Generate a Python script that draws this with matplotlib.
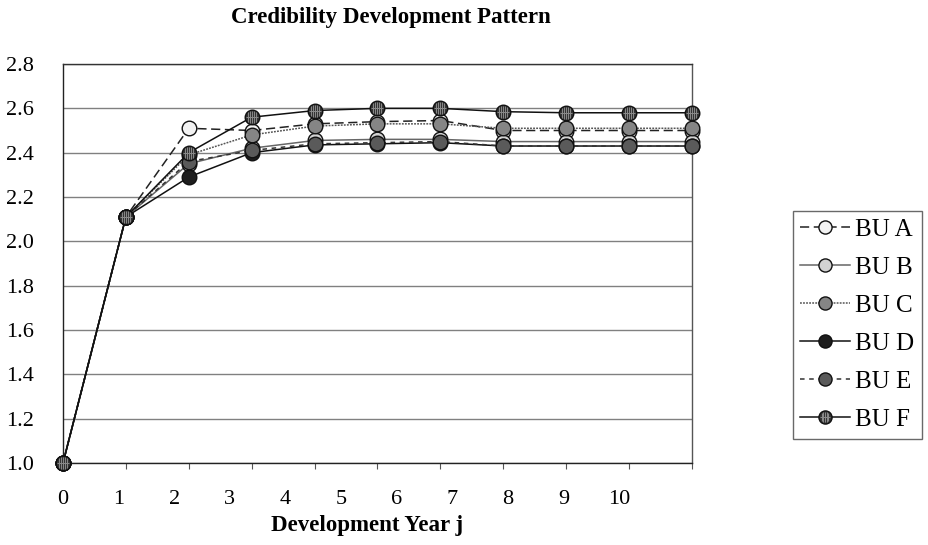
import numpy as np
import matplotlib
matplotlib.use("Agg")
import matplotlib.pyplot as plt
from matplotlib.path import Path
from matplotlib.lines import Line2D
from matplotlib.legend_handler import HandlerTuple
import matplotlib.transforms as mtrans

plt.rcParams['font.family'] = ['Liberation Serif', 'DejaVu Serif']

# development factors
dev_year = list(range(11))
bu_a = [1.00, 2.11, 2.51, 2.50, 2.53, 2.54, 2.545, 2.50, 2.50, 2.50, 2.50]
bu_b = [1.00, 2.11, 2.35, 2.42, 2.455, 2.46, 2.46, 2.45, 2.45, 2.45, 2.45]
bu_c = [1.00, 2.11, 2.39, 2.48, 2.52, 2.53, 2.53, 2.51, 2.51, 2.51, 2.51]
bu_d = [1.00, 2.11, 2.29, 2.40, 2.435, 2.44, 2.445, 2.43, 2.43, 2.43, 2.43]
bu_e = [1.00, 2.11, 2.36, 2.41, 2.44, 2.445, 2.45, 2.43, 2.43, 2.43, 2.43]
bu_f = [1.00, 2.11, 2.40, 2.56, 2.59, 2.60, 2.60, 2.585, 2.58, 2.58, 2.58]
names = ['BU A', 'BU B', 'BU C', 'BU D', 'BU E', 'BU F']
x_labels = [str(i) for i in range(11)]
y_ticks = [1.0, 1.2, 1.4, 1.6, 1.8, 2.0, 2.2, 2.4, 2.6, 2.8]

series = [bu_a, bu_b, bu_c, bu_d, bu_e, bu_f]
fills = ['#f2f2f2', '#d2d2d2', '#858585', '#1e1e1e', '#5a5a5a', '#333333']
styles = [(0, (6, 3)), '-', (0, (1.2, 0.8)), '-', (0, (3, 3)), '-']
lcolors = ['#222222', '#666666', '#555555', '#111111', '#333333', '#111111']

# striped marker for BU F
segs = []
codes = []
for xs in [-0.6, -0.3, 0.0, 0.3, 0.6]:
    h = np.sqrt(1 - xs ** 2) * 0.95
    segs += [(xs, -h), (xs, h)]
    codes += [Path.MOVETO, Path.LINETO]
segs += [(-0.95, 0), (0.95, 0)]
codes += [Path.MOVETO, Path.LINETO]
stripes = Path(segs, codes)

fig = plt.figure(figsize=(9.29, 5.45), dpi=100)
ax = fig.add_axes([63 / 929, 82 / 545, 629 / 929, 399 / 545])

ms = 10.5
handles = []
for vals, fc, ls, lc, name in zip(series, fills, styles, lcolors, names):
    ln, = ax.plot(dev_year, vals, ls=ls, color=lc, lw=1.1, marker='o', ms=ms,
                  mfc=fc, mec='#111111', mew=1.0, clip_on=False, zorder=3)
    if name == 'BU F':
        ax.plot(dev_year, vals, ls='none', marker=stripes, ms=ms * 0.8,
                mec='#8a8a8a', mew=0.7, clip_on=False, zorder=4)
        handles.append((ln, Line2D([], [], ls='none', marker=stripes, ms=ms * 0.8,
                                   mec='#8a8a8a', mew=0.7)))
    else:
        handles.append(ln)

ax.set_xlim(0, 10)
ax.set_ylim(1.0, 2.8)
ax.set_yticks(y_ticks)
ax.set_yticklabels(['%.1f' % v for v in y_ticks], fontsize=16)
ax.tick_params(axis='y', length=0, pad=21)
ax.yaxis.grid(True, color='#808080', lw=1)
ax.set_axisbelow(True)

# tick marks at the categories, labels drawn where the original put them
ax.set_xticks(dev_year)
ax.set_xticklabels([])
ax.tick_params(axis='x', direction='out', length=4, color='#555555')
trans = mtrans.blended_transform_factory(ax.transData, fig.transFigure)
for i, lab in enumerate(x_labels):
    ax.text(i * 0.884, 1 - 500 / 545, lab, transform=trans, fontsize=16,
            ha='center', va='center')

for sp in ax.spines.values():
    sp.set_color('#555555')
    sp.set_linewidth(1.0)
ax.spines['bottom'].set_color('#222222')
ax.spines['left'].set_color('#222222')
ax.spines['top'].set_color('#333333')

fig.text(367 / 929, 1 - 525 / 545, 'Development Year j', fontsize=16.5,
         fontweight='bold', ha='center', va='center')
fig.text(391 / 929, 1 - 18 / 545, 'Credibility Development Pattern', fontsize=16.5,
         fontweight='bold', ha='center', va='center')

leg = fig.legend(handles, names, loc='upper left', bbox_to_anchor=(793 / 929, 1 - 211 / 545),
                 fontsize=18, frameon=True, fancybox=False, borderpad=0.3,
                 borderaxespad=0, labelspacing=0.62, handlelength=2.0, handletextpad=0.2,
                 markerscale=0.9,
                 handler_map={tuple: HandlerTuple(ndivide=1, pad=0)})
leg.get_frame().set_edgecolor('#444444')
leg.get_frame().set_linewidth(1.0)

fig.savefig('out.png', dpi=100)
